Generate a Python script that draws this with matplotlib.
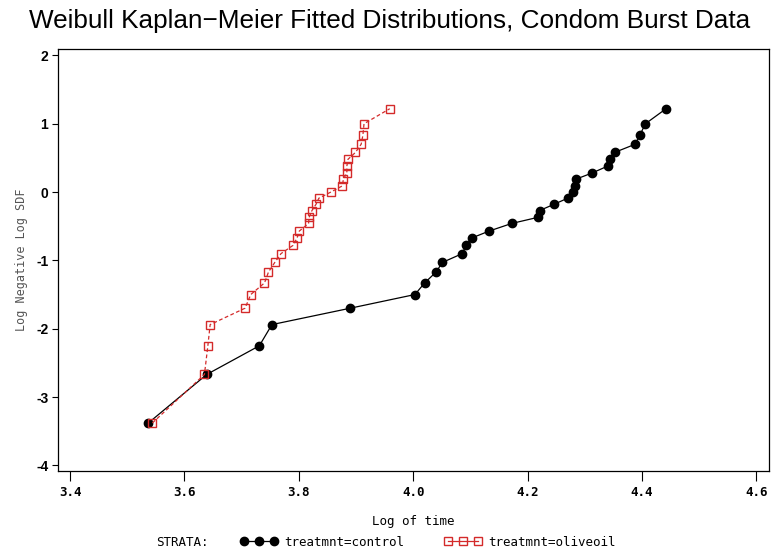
import matplotlib
matplotlib.use('Agg')
import matplotlib.pyplot as plt
from matplotlib.lines import Line2D

# control stratum: log(time), log(-log S)
control_x = [3.537, 3.639, 3.731, 3.753, 3.890, 4.003, 4.020, 4.040, 4.051, 4.086,
             4.092, 4.103, 4.133, 4.172, 4.218, 4.221, 4.246, 4.270, 4.279, 4.283,
             4.285, 4.313, 4.340, 4.344, 4.352, 4.388, 4.396, 4.406, 4.442]
control_y = [-3.38, -2.67, -2.25, -1.94, -1.70, -1.50, -1.33, -1.17, -1.03, -0.90,
             -0.78, -0.67, -0.57, -0.46, -0.37, -0.27, -0.18, -0.09, 0.00, 0.09,
             0.19, 0.28, 0.38, 0.48, 0.58, 0.70, 0.83, 1.00, 1.22]

# olive oil stratum
olive_x = [3.544, 3.635, 3.641, 3.645, 3.706, 3.716, 3.740, 3.747, 3.758, 3.769,
           3.790, 3.797, 3.801, 3.817, 3.818, 3.823, 3.830, 3.835, 3.856, 3.876,
           3.878, 3.884, 3.884, 3.886, 3.899, 3.909, 3.912, 3.914, 3.959]
olive_y = [-3.38, -2.67, -2.25, -1.94, -1.70, -1.50, -1.33, -1.17, -1.03, -0.90,
           -0.78, -0.67, -0.57, -0.46, -0.37, -0.27, -0.18, -0.09, 0.00, 0.09,
           0.19, 0.28, 0.38, 0.48, 0.58, 0.70, 0.83, 1.00, 1.22]

x_ticks = [3.4, 3.6, 3.8, 4.0, 4.2, 4.4, 4.6]
y_ticks = [-4, -3, -2, -1, 0, 1, 2]

RED = '#d42a2a'
MONO = 'DejaVu Sans Mono'

fig = plt.figure(figsize=(7.73, 5.55), dpi=100)
ax = fig.add_axes([58 / 773, 1 - 471 / 555, 711 / 773, 422 / 555])

ax.plot(control_x, control_y, '-', color='black', linewidth=0.9,
        marker='o', markersize=6, markerfacecolor='black', markeredgecolor='black')
ax.plot(olive_x, olive_y, '--', color=RED, linewidth=0.9, dashes=(3, 2),
        marker='s', markersize=6, markerfacecolor='none', markeredgecolor=RED,
        markeredgewidth=1.0)

ax.set_xlim(3.379, 4.622)
ax.set_ylim(-4.083, 2.094)
ax.set_xticks(x_ticks)
ax.set_xticklabels([f'{v:.1f}' for v in x_ticks], family=MONO, fontweight='bold', fontsize=9)
ax.set_yticks(y_ticks)
ax.set_yticklabels([str(v) for v in y_ticks], family='Liberation Sans', fontweight='bold', fontsize=10)
ax.tick_params(axis='x', direction='out', length=7, width=0.8, pad=4)
ax.tick_params(axis='y', direction='out', length=4, width=0.8, pad=3)
for s in ax.spines.values():
    s.set_linewidth(0.9)

ax.set_xlabel('Log of time', family=MONO, fontsize=9, labelpad=11)
ax.set_ylabel('Log Negative Log SDF', family=MONO, fontsize=8.5, color='#555555', labelpad=6)

fig.suptitle('Weibull Kaplan\u2212Meier Fitted Distributions, Condom Burst Data',
             x=0.504, y=0.983, fontsize=18.8, family='Liberation Sans')

# legend row at the bottom
fig.text(156 / 773, 1 - 542 / 555, 'STRATA:', family=MONO, fontsize=9, va='center')
h_ctrl = Line2D([], [], color='black', linewidth=0.9, marker='o', markersize=6)
h_olive = Line2D([], [], color=RED, linewidth=0.9, marker='s', markersize=6,
                 markerfacecolor='none', markeredgecolor=RED)
fig.legend([h_ctrl, h_olive], ['treatmnt=control', 'treatmnt=oliveoil'],
           loc='center left', bbox_to_anchor=(229 / 773, 1 - 542 / 555), ncol=2,
           frameon=False, numpoints=3, handlelength=3.0, handletextpad=0.5,
           columnspacing=3.2, prop={'family': MONO, 'size': 9})

fig.savefig('out.png', dpi=100)
